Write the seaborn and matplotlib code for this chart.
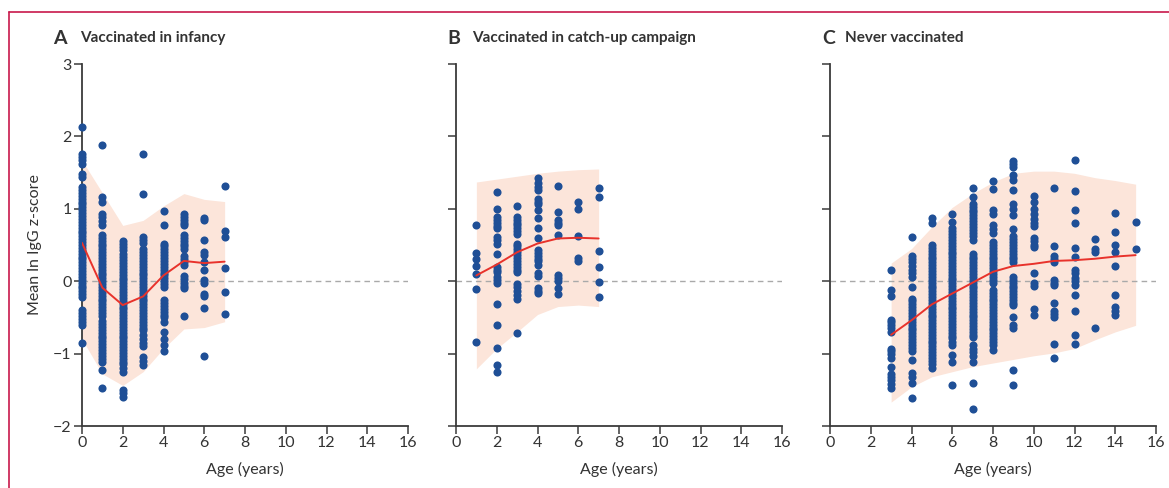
import matplotlib
matplotlib.use("Agg")
import matplotlib.pyplot as plt
import seaborn as sns
import pandas as pd
from matplotlib.lines import Line2D

# ---------------- data ----------------
inf_ages = [0, 1, 2, 3, 4, 5, 6, 7]
inf_vals = [
    [2.13, 1.76, 1.72, 1.67, 1.62, 1.48, 1.44, 1.30, 1.26, 1.22, 1.18, 1.14, 1.10, 1.06, 1.02, 0.98, 0.94,
     0.90, 0.86, 0.82, 0.78, 0.74, 0.70, 0.66, 0.62, 0.58, 0.54, 0.50, 0.46, 0.42, 0.38, 0.34, 0.30, 0.26,
     0.22, 0.18, 0.14, 0.10, 0.06, 0.02, -0.02, -0.06, -0.10, -0.14, -0.18, -0.22, -0.40, -0.44, -0.48,
     -0.52, -0.56, -0.61, -0.85],
    [1.88, 1.16, 1.10, 0.93, 0.88, 0.83, 0.77, 0.64, 0.60, 0.56, 0.52, 0.48, 0.44, 0.40, 0.36, 0.32, 0.28,
     0.24, 0.20, 0.16, 0.12, 0.08, 0.04, 0.00, -0.04, -0.08, -0.12, -0.16, -0.20, -0.24, -0.28, -0.32,
     -0.36, -0.40, -0.44, -0.48, -0.55, -0.59, -0.63, -0.67, -0.71, -0.75, -0.79, -0.83, -0.87, -0.91,
     -0.95, -0.99, -1.03, -1.07, -1.11, -1.22, -1.47],
    [0.55, 0.51, 0.47, 0.43, 0.37, 0.33, 0.29, 0.25, 0.21, 0.17, 0.13, 0.09, 0.05, 0.01, -0.03, -0.07,
     -0.11, -0.15, -0.19, -0.23, -0.27, -0.31, -0.35, -0.39, -0.43, -0.47, -0.51, -0.55, -0.59, -0.63,
     -0.67, -0.71, -0.75, -0.79, -0.83, -0.87, -0.91, -0.95, -0.99, -1.03, -1.07, -1.11, -1.15, -1.20,
     -1.25, -1.50, -1.55, -1.60],
    [1.76, 1.20, 0.61, 0.57, 0.53, 0.44, 0.40, 0.36, 0.32, 0.28, 0.24, 0.20, 0.16, 0.12, 0.08, 0.04, 0.00,
     -0.04, -0.08, -0.12, -0.16, -0.20, -0.24, -0.28, -0.32, -0.36, -0.40, -0.44, -0.48, -0.52, -0.56,
     -0.60, -0.64, -0.68, -0.74, -0.80, -0.85, -0.89, -1.05, -1.10, -1.16],
    [0.97, 0.78, 0.52, 0.48, 0.44, 0.40, 0.36, 0.32, 0.28, 0.24, 0.20, 0.16, 0.12, 0.08, 0.04, 0.00,
     -0.04, -0.08, -0.26, -0.30, -0.34, -0.38, -0.42, -0.46, -0.50, -0.56, -0.70, -0.80, -0.88, -0.97],
    [0.93, 0.89, 0.85, 0.81, 0.77, 0.64, 0.60, 0.56, 0.52, 0.48, 0.44, 0.35, 0.31, 0.27, 0.22, 0.07,
     0.03, -0.02, -0.06, -0.10, -0.48],
    [0.87, 0.84, 0.57, 0.40, 0.36, 0.27, 0.15, 0.02, -0.03, -0.17, -0.20, -0.37, -1.04],
    [1.31, 0.70, 0.61, 0.18, -0.15, -0.45],
]
inf_fit = [0.53, -0.09, -0.33, -0.21, 0.08, 0.28, 0.25, 0.27]
inf_hi = [1.67, 1.22, 0.77, 0.84, 1.04, 1.21, 1.13, 1.10]
inf_lo = [-0.80, -1.28, -1.44, -1.25, -0.93, -0.66, -0.64, -0.56]

cu_ages = [1, 2, 3, 4, 5, 6, 7]
cu_vals = [
    [0.77, 0.39, 0.30, 0.21, 0.10, -0.11, -0.84],
    [1.23, 1.00, 0.89, 0.85, 0.80, 0.76, 0.73, 0.61, 0.57, 0.52, 0.37, 0.20, 0.16, 0.13, 0.06, 0.02,
     -0.03, -0.31, -0.61, -0.92, -1.16, -1.26],
    [1.04, 0.89, 0.85, 0.81, 0.77, 0.73, 0.69, 0.65, 0.52, 0.48, 0.44, 0.40, 0.36, 0.32, 0.28, 0.24,
     0.20, 0.16, 0.13, -0.04, -0.08, -0.13, -0.19, -0.24, -0.71],
    [1.43, 1.35, 1.30, 1.26, 1.14, 1.10, 1.06, 0.98, 0.87, 0.74, 0.59, 0.43, 0.39, 0.35, 0.31, 0.28,
     0.22, 0.11, 0.07, -0.09, -0.13, -0.16],
    [1.32, 0.95, 0.84, 0.80, 0.77, 0.64, 0.08, 0.04, 0.00, -0.10, -0.18],
    [1.10, 1.00, 0.63, 0.32, 0.28],
    [1.29, 1.16, 0.42, 0.20, -0.01, -0.22],
]
cu_fit = [0.08, 0.23, 0.40, 0.52, 0.59, 0.60, 0.59]
cu_hi = [1.37, 1.41, 1.45, 1.49, 1.52, 1.54, 1.55]
cu_lo = [-1.21, -0.93, -0.70, -0.46, -0.35, -0.33, -0.35]

nv_ages = [3, 4, 5, 6, 7, 8, 9, 10, 11, 12, 13, 14, 15]
nv_vals = [
    [0.16, -0.12, -0.20, -0.53, -0.57, -0.61, -0.65, -0.70, -0.93, -0.97, -1.01, -1.06, -1.18, -1.28,
     -1.32, -1.37, -1.42, -1.47],
    [0.61, 0.35, 0.30, 0.26, 0.21, 0.16, 0.11, 0.06, -0.08, -0.24, -0.28, -0.32, -0.36, -0.40, -0.44,
     -0.48, -0.52, -0.56, -0.60, -0.64, -0.68, -0.72, -0.76, -0.80, -0.84, -0.88, -0.92, -0.97, -1.09,
     -1.27, -1.32, -1.40, -1.61],
    [0.87, 0.81, 0.50, 0.46, 0.42, 0.38, 0.34, 0.30, 0.26, 0.22, 0.18, 0.14, 0.10, 0.06, 0.02, -0.02,
     -0.06, -0.10, -0.14, -0.18, -0.22, -0.26, -0.30, -0.34, -0.38, -0.42, -0.46, -0.50, -0.54, -0.58,
     -0.62, -0.66, -0.70, -0.74, -0.78, -0.82, -0.86, -0.90, -0.94, -0.98, -1.02, -1.06, -1.10, -1.15,
     -1.20],
    [0.93, 0.82, 0.73, 0.69, 0.65, 0.61, 0.57, 0.53, 0.49, 0.45, 0.41, 0.37, 0.33, 0.29, 0.25, 0.21,
     0.17, 0.13, 0.09, 0.05, 0.01, -0.03, -0.07, -0.11, -0.15, -0.19, -0.23, -0.27, -0.31, -0.35, -0.39,
     -0.43, -0.47, -0.51, -0.55, -0.59, -0.63, -0.67, -0.71, -0.75, -0.79, -0.84, -0.88, -1.02, -1.11,
     -1.43],
    [1.29, 1.16, 1.07, 1.03, 0.99, 0.95, 0.91, 0.87, 0.83, 0.79, 0.75, 0.71, 0.67, 0.63, 0.57, 0.38,
     0.34, 0.30, 0.26, 0.22, 0.18, 0.14, 0.10, 0.06, 0.02, -0.02, -0.06, -0.10, -0.14, -0.18, -0.22,
     -0.26, -0.30, -0.34, -0.38, -0.42, -0.46, -0.50, -0.54, -0.58, -0.62, -0.66, -0.70, -0.74, -0.77,
     -0.88, -0.93, -0.98, -1.03, -1.11, -1.41, -1.77],
    [1.39, 1.27, 0.98, 0.93, 0.77, 0.72, 0.66, 0.54, 0.50, 0.46, 0.42, 0.38, 0.34, 0.30, 0.26, 0.22,
     0.18, 0.14, 0.10, 0.06, 0.02, -0.03, -0.12, -0.16, -0.20, -0.24, -0.28, -0.32, -0.36, -0.40, -0.44,
     -0.48, -0.52, -0.56, -0.60, -0.64, -0.68, -0.72, -0.76, -0.80, -0.84, -0.88, -0.95],
    [1.66, 1.62, 1.58, 1.46, 1.40, 1.26, 1.07, 1.00, 0.91, 0.72, 0.62, 0.58, 0.54, 0.50, 0.46, 0.42,
     0.38, 0.34, 0.30, 0.26, 0.06, 0.02, -0.02, -0.06, -0.10, -0.14, -0.18, -0.22, -0.26, -0.30, -0.33,
     -0.49, -0.61, -0.65, -1.22, -1.43],
    [1.17, 1.09, 1.00, 0.93, 0.86, 0.80, 0.76, 0.60, 0.55, 0.50, 0.47, 0.12, -0.02, -0.07, -0.38, -0.47],
    [1.29, 0.49, 0.35, 0.31, 0.27, 0.02, -0.02, -0.05, -0.30, -0.41, -0.45, -0.49, -0.87, -1.06],
    [1.68, 1.24, 0.98, 0.80, 0.46, 0.33, 0.15, 0.12, 0.04, 0.00, -0.05, -0.19, -0.41, -0.74, -0.87],
    [0.58, 0.45, 0.41, -0.65],
    [0.94, 0.68, 0.50, 0.41, 0.21, -0.19, -0.35, -0.41, -0.46],
    [0.82, 0.44],
]
nv_fit = [-0.74, -0.54, -0.32, -0.17, -0.02, 0.13, 0.21, 0.24, 0.28, 0.29, 0.31, 0.34, 0.36]
nv_hi = [0.25, 0.45, 0.75, 1.02, 1.21, 1.37, 1.49, 1.52, 1.52, 1.49, 1.43, 1.39, 1.34]
nv_lo = [-1.67, -1.46, -1.32, -1.25, -1.18, -1.13, -1.08, -1.03, -0.99, -0.93, -0.81, -0.70, -0.61]

panel_letters = ["A", "B", "C"]
panel_titles = ["Vaccinated in infancy", "Vaccinated in catch-up campaign", "Never vaccinated"]
x_ticks = [0, 2, 4, 6, 8, 10, 12, 14, 16]
y_ticks = [3, 2, 1, 0, -1, -2]
y_tick_labels = ["3", "2", "1", "0", "\u22121", "\u22122"]
x_label = "Age (years)"
y_label = "Mean ln IgG z-score"

# ---------------- style ----------------
sns.set_style("ticks")
plt.rcParams["font.family"] = ["Lato", "DejaVu Sans"]

DOT = "#1f4f96"
RED = "#e8322b"
BAND = "#fce5da"
AXC = "#3a3a3a"
TXT = "#333333"

fig = plt.figure(figsize=(11.69, 4.88), dpi=100)
lefts = [82 / 1169, 456 / 1169, 830 / 1169]
w = (408 - 82) / 1169
b = (488 - 426) / 488
h = (426 - 64) / 488

datasets = [
    (inf_ages, inf_vals, inf_fit, inf_hi, inf_lo),
    (cu_ages, cu_vals, cu_fit, cu_hi, cu_lo),
    (nv_ages, nv_vals, nv_fit, nv_hi, nv_lo),
]

for i, (ages, vals, fit, hi, lo) in enumerate(datasets):
    ax = fig.add_axes([lefts[i], b, w, h])
    xs, ys = [], []
    for a, vs in zip(ages, vals):
        xs += [a] * len(vs)
        ys += vs
    df = pd.DataFrame({"age": xs, "z": ys})
    ax.fill_between(ages, lo, hi, color=BAND, lw=0, zorder=1)
    ax.axhline(0, color="#a9a9a9", lw=1.0, ls=(0, (4, 3)), zorder=2)
    sns.scatterplot(data=df, x="age", y="z", ax=ax, color=DOT, s=34, linewidth=0,
                    zorder=3, legend=False, clip_on=False)
    sns.lineplot(x=ages, y=fit, ax=ax, color=RED, lw=1.4, zorder=4, legend=False)

    ax.set_xlim(0, 16)
    ax.set_ylim(-2, 3)
    ax.set_xticks(x_ticks)
    ax.set_xticklabels([str(t) for t in x_ticks])
    ax.set_yticks(y_ticks)
    if i == 0:
        ax.set_yticklabels(y_tick_labels)
        ax.set_ylabel(y_label, fontsize=11.5, color=TXT, labelpad=8)
    else:
        ax.set_yticklabels([])
        ax.set_ylabel("")
    ax.set_xlabel(x_label, fontsize=11.5, color=TXT, labelpad=8)
    sns.despine(ax=ax)
    for s in ["left", "bottom"]:
        ax.spines[s].set_color(AXC)
        ax.spines[s].set_linewidth(1.3)
    ax.tick_params(axis="both", length=5.5, width=1.1, color=AXC, labelsize=11.5,
                   labelcolor=TXT, pad=2)
    ax.set_facecolor("none")
    ax.patch.set_alpha(0)

    # titles
    lx = [53, 447, 822][i] / 1169
    tx = [80, 472, 845][i] / 1169
    fig.text(lx, 1 - 38 / 488, panel_letters[i], fontsize=14, fontweight="bold",
             color=TXT, va="center", ha="left")
    fig.text(tx, 1 - 38 / 488, panel_titles[i], fontsize=11, fontweight="bold",
             color=TXT, va="center", ha="left")

# frame lines (top and left)
fig.add_artist(Line2D([9 / 1169, 1.0], [1 - 12 / 488, 1 - 12 / 488],
                      transform=fig.transFigure, color="#c8194c", lw=1.2))
fig.add_artist(Line2D([9 / 1169, 9 / 1169], [0, 1 - 12 / 488],
                      transform=fig.transFigure, color="#c8194c", lw=1.2))

fig.savefig("out.png", dpi=100)
